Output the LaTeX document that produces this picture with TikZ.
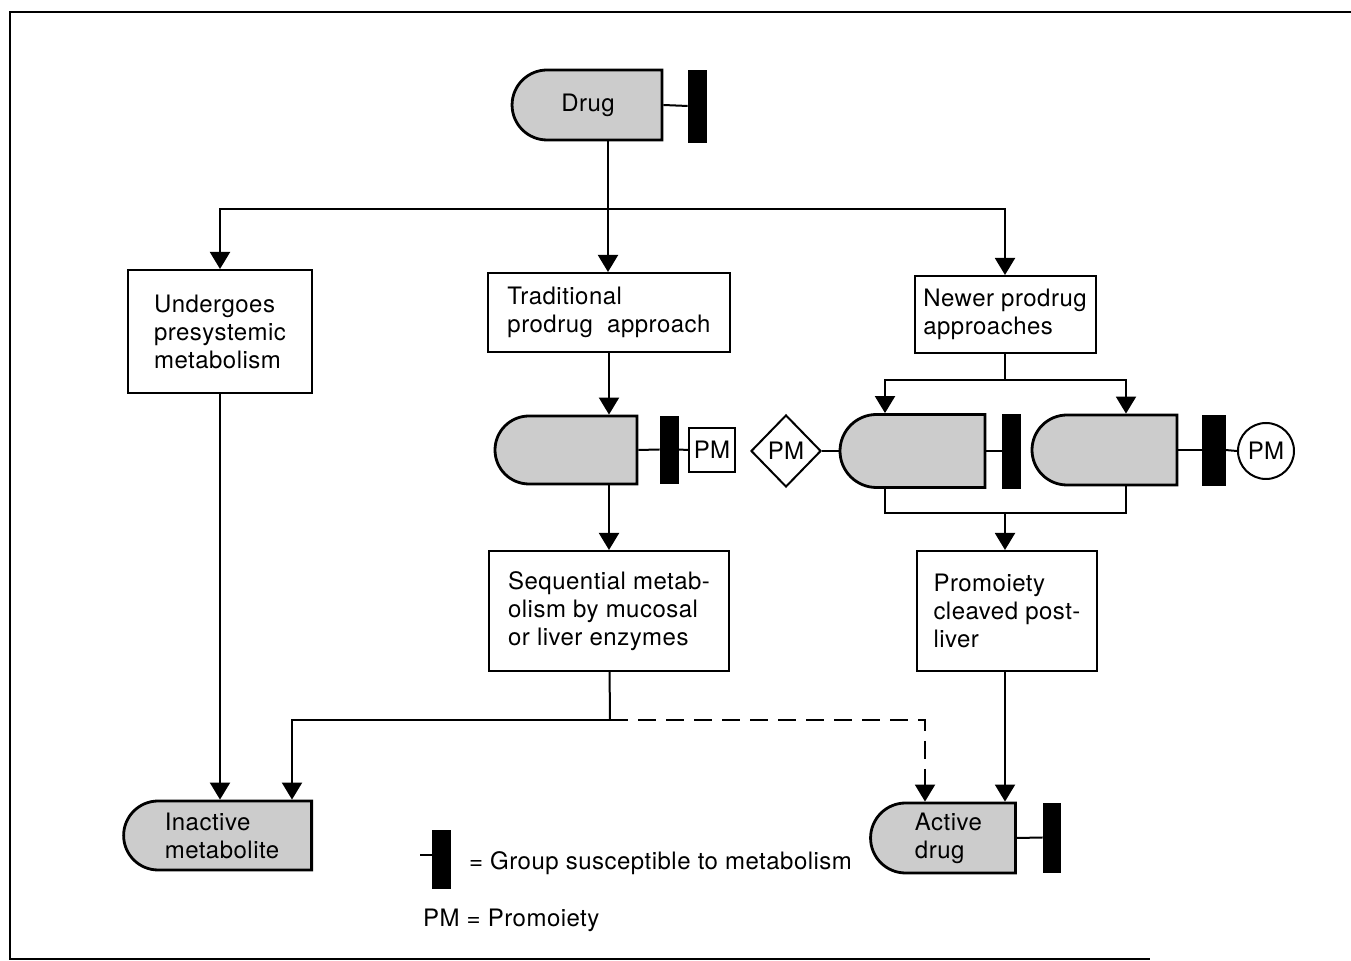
\documentclass[tikz,border=0pt]{standalone}
\usepackage{fontspec}
\setmainfont[LetterSpace=2]{TeX Gyre Heros}
\usetikzlibrary{arrows.meta, shapes.misc, shapes.geometric}
\tikzset{
    txt/.style={font=\fontsize{12}{14}\selectfont, align=left},
    box/.style={txt, draw, line width=1pt, fill=white, inner sep=0pt},
    pill/.style={txt, rounded rectangle, rounded rectangle right arc=none, draw, line width=1.4pt, fill=black!20, inner sep=0pt},
    bar/.style={fill=black, draw=black, inner sep=0pt, minimum width=9pt},
    pmbox/.style={txt, draw, line width=1pt, inner sep=0pt},
    link/.style={line width=1pt},
    flow/.style={link, -{Triangle[length=8.5pt, width=10pt]}},
}

\begin{document}
\begin{tikzpicture}[x=0.5pt, y=-0.5pt]
    \useasboundingbox (0,0) rectangle (1351,961);
    \draw[line width=1.3pt] (1351,12) -- (10,12) -- (10,959) -- (1150,959);

    \node[pill, minimum width=75pt, minimum height=35pt] (drug) at (588,105) {Drug};
    \node[bar, minimum height=36pt] (drugbar) at (697,106) {};
    \draw[link] (drug.east) -- (drugbar.west);

    \node[box, minimum width=92pt, minimum height=61.5pt] (presys) at (220,331.5) {Undergoes\\presystemic\\metabolism};
    \node[box, minimum width=121pt, minimum height=39.5pt] (trad) at (609,312.5) {Traditional\\prodrug\ \ approach};
    \node[box, minimum width=90.5pt, minimum height=38.5pt] (newer) at (1005,314.5) {Newer prodrug\\approaches};

    \coordinate (split) at (608,209);
    \draw[link] (drug.south -| split) -- (split);
    \draw[flow] (split) -| (presys);
    \draw[flow] (split) -- (split |- trad.north);
    \draw[flow] (split) -| (newer);

    % traditional route
    \node[pill, minimum width=71pt, minimum height=34pt] (tradpill) at (566,450) {};
    \node[bar, minimum height=33.5pt] (tradbar) at (669,449.5) {};
    \node[pmbox, minimum width=23pt, minimum height=22pt] (tradpm) at (712,450) {PM};
    \draw[link] (tradpill.east) -- (tradbar.west);
    \draw[link] (tradbar.east) -- (tradpm.west);
    \draw[flow] (trad) -- (trad |- tradpill.north);

    \node[box, minimum width=120pt, minimum height=60pt] (seq) at (609,611) {Sequential metab-\\olism by mucosal\\or liver enzymes};
    \draw[flow] (tradpill.south -| trad) -- (seq);

    % newer routes
    \coordinate (nsplit) at (1005,380);
    \coordinate (nl) at (885,380);
    \coordinate (nr) at (1126,380);
    \node[pill, minimum width=72.5pt, minimum height=36.5pt] (lpill) at (912.5,451) {};
    \node[bar, minimum height=37pt] (lbar) at (1011,451) {};
    \node[txt, diamond, aspect=1, draw, line width=1pt, inner sep=0pt, minimum width=35pt, minimum height=36pt] (pmd) at (786,451) {PM};
    \draw[link] (pmd.east) -- (lpill.west);
    \draw[link] (lpill.east) -- (lbar.west);

    \node[pill, minimum width=72.5pt, minimum height=35pt] (rpill) at (1104.5,450) {};
    \node[bar, minimum width=11.5pt, minimum height=35pt] (rbar) at (1213.5,450) {};
    \node[txt, circle, draw, line width=1pt, inner sep=0pt, minimum size=28pt] (pmc) at (1266,451) {PM};
    \draw[link] (rpill.east) -- (rbar.west);
    \draw[link] (rbar.east) -- (pmc.west);

    \draw[link] (newer) -- (nsplit);
    \draw[flow] (nsplit) -- (nl) -- (nl |- lpill.north);
    \draw[flow] (nsplit) -- (nr) -- (nr |- rpill.north);

    \coordinate (jl) at (885,513);
    \coordinate (jr) at (1126,513);
    \coordinate (jm) at (1005,513);
    \node[box, minimum width=90pt, minimum height=60pt] (cleave) at (1007,611) {Promoiety\\cleaved post-\\liver};
    \draw[link] (lpill.south -| jl) -- (jl) -- (jr) -- (rpill.south -| jr);
    \draw[flow] (jm) -- (jm |- cleave.north);

    % end products
    \node[pill, minimum width=94pt, minimum height=34.5pt] (inactive) at (222,835.5) {Inactive\\metabolite};
    \node[pill, minimum width=72.5pt, minimum height=35pt] (active) at (948.5,838) {Active\\drug};
    \node[bar, minimum width=8.5pt, minimum height=34.5pt] (activebar) at (1051.5,837.5) {};
    \draw[link] (active.east) -- (activebar.west);

    \draw[flow] (presys) -- (presys |- inactive.north);
    \draw[flow] (jm |- cleave.south) -- (jm |- active.north);

    \coordinate (sj) at (610,720);
    \coordinate (ia) at (292,720);
    \coordinate (da) at (925,720);
    \draw[link] (seq) -- (sj);
    \draw[flow] (sj) -- (ia) -- (ia |- inactive.north);
    \draw[flow, dash pattern=on 9pt off 5pt] (sj) -- (da) -- (da |- active.north);

    % legend
    \node[bar, minimum height=29pt] (legbar) at (441,859) {};
    \coordinate (legstem) at (420,855);
    \draw[link] (legstem) -- (legstem -| legbar.west);
    \node[txt, anchor=west] (legtext) at (462,863) {= Group susceptible to metabolism};
    \node[txt, anchor=west] (pmtext) at (416,920) {PM = Promoiety};
\end{tikzpicture}
\end{document}
